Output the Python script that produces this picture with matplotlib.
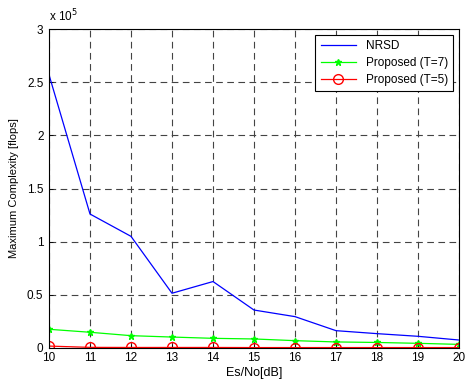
import matplotlib
matplotlib.use("Agg")
import matplotlib.pyplot as plt
from matplotlib.ticker import FuncFormatter

snr = [10, 11, 12, 13, 14, 15, 16, 17, 18, 19, 20]
nrsd = [2.57e5, 1.26e5, 1.05e5, 0.515e5, 0.625e5, 0.357e5, 0.295e5, 0.163e5, 0.135e5, 0.11e5, 0.075e5]
prop_t7 = [0.176e5, 0.148e5, 0.116e5, 0.103e5, 0.091e5, 0.085e5, 0.069e5, 0.057e5, 0.052e5, 0.044e5, 0.034e5]
prop_t5 = [0.018e5, 0.006e5, 0.005e5, 0.005e5, 0.005e5, 0.004e5, 0.004e5, 0.004e5, 0.004e5, 0.004e5, 0.004e5]
yticks = [0, 0.5e5, 1e5, 1.5e5, 2e5, 2.5e5, 3e5]

plt.rcParams['font.family'] = ['Liberation Sans', 'DejaVu Sans']
fig = plt.figure(figsize=(4.65, 3.82), dpi=100)
ax = fig.add_axes([49/465, 1-348/382, (459-49)/465, (348-29)/382])

ax.plot(snr, nrsd, color='#0000ff', lw=0.9, label='NRSD')
ax.plot(snr, prop_t7, color='#00ff00', lw=0.9, marker='*', ms=5, label='Proposed (T=7)')
ax.plot(snr, prop_t5, color='#ff0000', lw=0.9, marker='o', ms=7, mfc='none', label='Proposed (T=5)')

ax.set_xlim(10, 20)
ax.set_ylim(0, 3e5)
ax.set_xticks(snr)
ax.set_yticks(yticks)
ax.yaxis.set_major_formatter(FuncFormatter(lambda v, p: f"{v/1e5:g}"))
ax.tick_params(direction='in', labelsize=8.5, length=3, width=0.6, pad=3)
ax.tick_params(axis='y', pad=4)
ax.grid(True, color='#444444', linestyle=(0, (6, 4)), lw=0.8)
for s in ax.spines.values():
    s.set_linewidth(0.8)
ax.set_xlabel('Es/No[dB]', fontsize=9, labelpad=2)
ax.set_ylabel('Maximum Complexity [flops]', fontsize=8)
ax.yaxis.set_label_coords(-0.074, 0.5)
ax.text(0.0, 1.015, r'x 10$^5$', transform=ax.transAxes, fontsize=8.5, ha='left', va='bottom')

leg = ax.legend(loc='upper right', fontsize=8.5, fancybox=False, edgecolor='black',
                framealpha=1, borderaxespad=0.5, handlelength=3.0, labelspacing=0.4,
                borderpad=0.45)
leg.get_frame().set_linewidth(0.8)

fig.savefig('out.png', dpi=100)
